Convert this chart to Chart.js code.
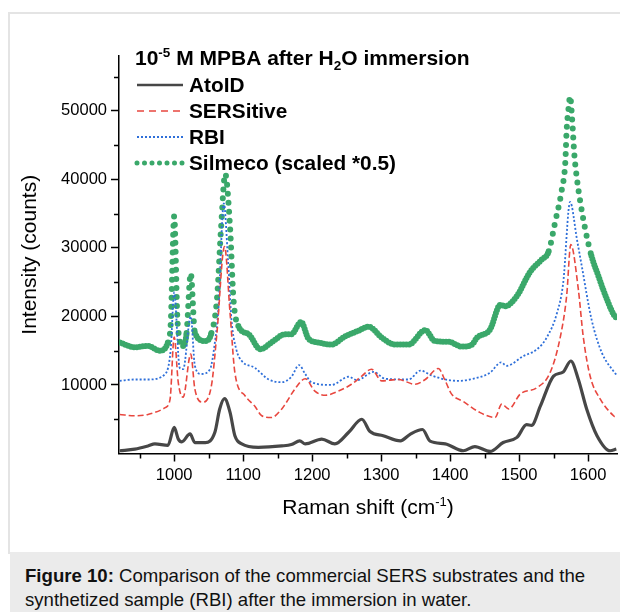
<!DOCTYPE html>
<html>
<head>
<meta charset="utf-8">
<script src="https://cdn.jsdelivr.net/npm/chart.js@4"></script>
<style>
body{margin:0;width:620px;height:612px;overflow:hidden;background:#fff;position:relative;font-family:"Liberation Sans",Arial,sans-serif}
#frame{position:absolute;left:8px;top:12px;width:640px;height:540px;border-left:2px solid #e4e4e4;border-top:2px solid #e4e4e4}
#graph{position:absolute;left:0;top:0}
#caption{position:absolute;left:10px;top:552px;width:610px;height:60px;background:#ebebeb;box-sizing:border-box;padding:12px 0 0 15px;font-size:18.6px;line-height:24px;color:#111;white-space:nowrap}
</style>
</head>
<body>
<div id="frame"></div>
<canvas id="graph" width="620" height="552"></canvas>
<div id="caption"><b>Figure 10:</b> Comparison of the commercial SERS substrates and the<br>synthetized sample (RBI) after the immersion in water.</div>
<script>
// values (Raman shift in cm-1, intensity in counts)
const atoidX = [921, 943, 962, 972, 991, 1000, 1006, 1011, 1023, 1030, 1045, 1059, 1066, 1073, 1081, 1088, 1098, 1122, 1156, 1170, 1182, 1190, 1214, 1233, 1253, 1272, 1284, 1303, 1328, 1342, 1360, 1371, 1393, 1419, 1436, 1458, 1477, 1497, 1511, 1518, 1531, 1550, 1564, 1575, 1586, 1598, 1613, 1632, 1641]
const atoidY = [400, 640, 1100, 1400, 1200, 3800, 2100, 1700, 2850, 1600, 1600, 3100, 6500, 8000, 6000, 2600, 1400, 900, 1100, 1300, 1850, 1400, 2100, 1400, 3100, 5000, 3200, 2600, 1850, 2800, 3500, 1800, 1400, 400, 1000, 300, 1600, 2350, 4200, 4100, 6950, 11300, 11900, 13500, 10800, 6500, 2600, 400, 650]

const sersX = [921, 943, 962, 987, 994, 1000, 1006, 1013, 1024, 1030, 1041, 1054, 1062, 1073, 1081, 1088, 1103, 1117, 1127, 1141, 1156, 1161, 1175, 1190, 1204, 1219, 1238, 1257, 1272, 1286, 1301, 1325, 1349, 1364, 1383, 1393, 1402, 1419, 1443, 1465, 1475, 1485, 1502, 1526, 1545, 1560, 1569, 1575, 1586, 1593, 1603, 1618, 1637, 1641]
const sersY = [5700, 5500, 5700, 6700, 7900, 17000, 10300, 8200, 14500, 9400, 7500, 9900, 17600, 30200, 20500, 11800, 8400, 6900, 5500, 5250, 6500, 7200, 9400, 10900, 9100, 8500, 9100, 10100, 11300, 12300, 10600, 10800, 10100, 10800, 12400, 10600, 8700, 7600, 6000, 5250, 7200, 6500, 8700, 9600, 11800, 17100, 23000, 30500, 23900, 17100, 11300, 7900, 5500, 5200]

const rbiX = [921, 943, 962, 987, 995, 1000, 1008, 1013, 1024, 1030, 1039, 1052, 1059, 1064, 1072, 1078, 1083, 1090, 1098, 1117, 1137, 1156, 1170, 1181, 1190, 1199, 1228, 1253, 1265, 1289, 1306, 1340, 1357, 1373, 1393, 1412, 1429, 1458, 1474, 1482, 1506, 1526, 1540, 1555, 1564, 1574, 1584, 1591, 1605, 1620, 1637, 1641]
const rbiY = [10600, 10800, 10800, 11600, 15200, 23500, 12500, 12300, 20000, 12800, 11600, 12300, 16200, 21000, 36500, 28300, 19600, 15200, 13500, 12500, 10800, 10400, 11200, 12900, 11600, 10400, 10000, 11200, 10700, 11900, 10900, 10800, 12100, 11400, 10800, 10600, 10800, 11800, 13300, 12800, 14200, 15200, 16900, 20500, 24900, 36700, 31200, 27300, 19600, 14700, 12000, 11500]

const silmecoX = [921, 943, 962, 979, 991, 995, 1000, 1005, 1013, 1018, 1024, 1030, 1045, 1054, 1062, 1068, 1074, 1081, 1086, 1093, 1108, 1125, 1141, 1161, 1170, 1184, 1195, 1209, 1228, 1248, 1267, 1282, 1301, 1320, 1340, 1364, 1378, 1398, 1417, 1432, 1439, 1458, 1473, 1480, 1497, 1516, 1533, 1543, 1552, 1562, 1567, 1569, 1572, 1574, 1577, 1580, 1584, 1589, 1596, 1605, 1615, 1622, 1637, 1641]
const silmecoY = [16200, 15500, 15700, 15000, 16200, 19000, 34600, 19000, 15700, 17600, 26300, 17600, 16400, 17600, 22500, 33000, 40800, 33000, 22500, 18600, 17400, 15200, 16200, 17400, 17400, 19200, 16700, 16200, 15900, 17100, 17900, 18500, 16900, 15900, 15900, 18000, 16400, 16300, 15600, 15900, 16900, 18100, 21700, 21500, 23000, 26500, 28300, 29500, 33600, 38500, 42400, 47200, 50600, 52100, 48700, 43800, 40000, 36600, 32700, 28800, 25900, 23900, 20300, 19800]

const seriesNames = ['AtoID', 'SERSitive', 'RBI', 'Silmeco (scaled *0.5)']
const xTicks = [1000, 1100, 1200, 1300, 1400, 1500, 1600]
const xMinorTicks = [950, 1050, 1150, 1250, 1350, 1450, 1550]
const yTicks = [10000, 20000, 30000, 40000, 50000]
const yMinorTicks = [5000, 15000, 25000, 35000, 45000, 55000]

const FONT = '"Liberation Sans", Arial, sans-serif'

function pts(xs, ys) {
    return xs.map((x, i) => ({x: x, y: ys[i]}))
}

// writes text pieces with super/subscripts, [text, dy, size]
function richText(ctx, parts, x, y, bold, align) {
    let w = 0
    parts.forEach(p => {
        ctx.font = (bold ? 'bold ' : '') + p[2] + 'px ' + FONT
        w += ctx.measureText(p[0]).width
    })
    if (align === 'center') x -= w / 2
    parts.forEach(p => {
        ctx.font = (bold ? 'bold ' : '') + p[2] + 'px ' + FONT
        ctx.fillText(p[0], x, y + p[1])
        x += ctx.measureText(p[0]).width
    })
}

const legendStyles = [
    {dash: [], width: 2.5, cap: 'butt'},
    {dash: [7, 5], width: 1.6, cap: 'butt'},
    {dash: [2, 2], width: 1.8, cap: 'butt'},
    {dash: [0, 7.5], width: 5, cap: 'round'}
]

const extras = {
    id: 'extras',
    afterDraw(chart) {
        const ctx = chart.ctx
        const area = chart.chartArea
        const sx = chart.scales.x, sy = chart.scales.y
        ctx.save()

        // minor ticks
        ctx.strokeStyle = '#000'
        ctx.lineWidth = 1.5
        ctx.beginPath()
        xMinorTicks.forEach(v => {
            const px = Math.round(sx.getPixelForValue(v)) + 0.5
            ctx.moveTo(px, area.bottom)
            ctx.lineTo(px, area.bottom + 5)
        })
        yMinorTicks.forEach(v => {
            const py = Math.round(sy.getPixelForValue(v)) + 0.5
            ctx.moveTo(area.left, py)
            ctx.lineTo(area.left - 5, py)
        })
        ctx.stroke()

        ctx.fillStyle = '#000'
        ctx.textBaseline = 'alphabetic'
        ctx.textAlign = 'left'

        // legend title
        richText(ctx, [['10', 0, 21], ['-5', -8, 13.5], [' M MPBA after H', 0, 21], ['2', 5, 13.5], ['O immersion', 0, 21]], 135, 65, true, 'left')

        // legend rows
        chart.data.datasets.forEach((ds, i) => {
            const st = legendStyles[i]
            const yb = 92 + i * 26
            ctx.beginPath()
            ctx.setLineDash(st.dash)
            ctx.lineCap = st.cap
            ctx.lineWidth = st.width
            ctx.strokeStyle = ds.borderColor
            ctx.moveTo(137, yb - 7)
            ctx.lineTo(183, yb - 7)
            ctx.stroke()
            ctx.setLineDash([])
            ctx.font = 'bold 20.8px ' + FONT
            ctx.fillStyle = '#000'
            ctx.fillText(ds.label, 189, yb)
        })

        // x axis title
        richText(ctx, [['Raman shift (cm', 0, 21], ['-1', -8, 13], [')', 0, 21]], (area.left + area.right) / 2, 514, false, 'center')
        ctx.restore()
    }
}

let graph = document.getElementById('graph').getContext('2d')

new Chart(graph, {
    type: 'line',
    data: {
        datasets: [
            {
                label: seriesNames[0],
                data: pts(atoidX, atoidY),
                borderColor: '#474747',
                borderWidth: 3.2
            },
            {
                label: seriesNames[1],
                data: pts(sersX, sersY),
                borderColor: '#e8473f',
                borderWidth: 1.6,
                borderDash: [6, 3]
            },
            {
                label: seriesNames[2],
                data: pts(rbiX, rbiY),
                borderColor: '#2e6fd9',
                borderWidth: 1.8,
                borderDash: [2, 2]
            },
            {
                label: seriesNames[3],
                data: pts(silmecoX, silmecoY),
                borderColor: '#3aa86a',
                borderWidth: 6,
                borderCapStyle: 'round',
                borderDash: [0, 3],
                segment: {
                    // dots spread out only on the steep flanks of the peaks
                    borderDash: ctx => Math.abs(ctx.p1.y - ctx.p0.y) > 4 * Math.abs(ctx.p1.x - ctx.p0.x) ? [0, 9] : [0, 3]
                }
            }
        ]
    },
    options: {
        responsive: false,
        devicePixelRatio: 1,
        animation: false,
        events: [],
        layout: {padding: {top: 56, right: 3, left: 0, bottom: 0}},
        elements: {
            point: {radius: 0},
            line: {cubicInterpolationMode: 'monotone', fill: false}
        },
        plugins: {
            legend: {display: false},
            tooltip: {enabled: false}
        },
        scales: {
            x: {
                type: 'linear',
                min: 920,
                max: 1642,
                afterBuildTicks: s => { s.ticks = xTicks.map(v => ({value: v})) },
                afterFit: s => { s.height = 98.5 },
                border: {color: '#000', width: 1.5},
                grid: {drawOnChartArea: false, tickLength: 8, tickColor: '#000', tickWidth: 1.5},
                ticks: {color: '#000', font: {family: FONT, size: 16.5}, padding: 4, maxRotation: 0, autoSkip: false, callback: v => String(v)}
            },
            y: {
                min: 0,
                max: 58000,
                afterBuildTicks: s => { s.ticks = yTicks.map(v => ({value: v})) },
                afterFit: s => { s.width = 119 },
                border: {color: '#000', width: 1.5},
                grid: {drawOnChartArea: false, tickLength: 8, tickColor: '#000', tickWidth: 1.5},
                ticks: {color: '#000', font: {family: FONT, size: 16.5}, padding: 4, callback: v => String(v)},
                title: {display: true, text: 'Intensity (counts)', color: '#000', font: {family: FONT, size: 21}, padding: {top: 18}}
            }
        }
    },
    plugins: [extras]
})
</script>
</body>
</html>
